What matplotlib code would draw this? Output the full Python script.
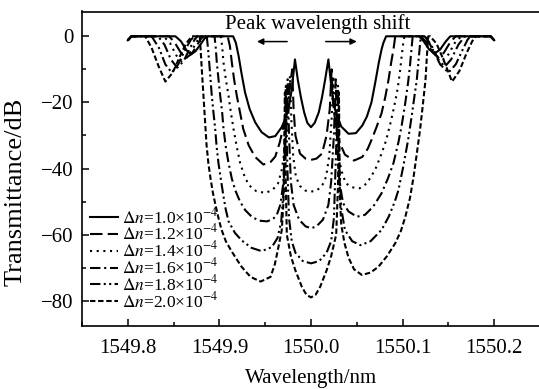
import numpy as np
import matplotlib
matplotlib.use('Agg')
import matplotlib.pyplot as plt
from matplotlib.ticker import MultipleLocator, FormatStrFormatter

plt.rcParams['font.family'] = ['Liberation Serif', 'DejaVu Serif']
plt.rcParams['mathtext.fontset'] = 'stix'

# centre wavelength (nm); curve points are (offset from centre in nm, transmittance in dB)
center = 1550.0

n10 = [(-0.200, -1.2), (-0.196, 0), (-0.148, 0), (-0.142, -1.5), (-0.136, -4.2), (-0.131, -5.5),
       (-0.126, -4.5), (-0.120, -2.2), (-0.116, -0.6), (-0.113, 0), (-0.085, 0), (-0.082, -2),
       (-0.079, -6), (-0.076, -11), (-0.072, -17), (-0.067, -22), (-0.061, -26), (-0.054, -29),
       (-0.046, -30.6), (-0.039, -30.2), (-0.032, -27.5), (-0.0275, -24.5), (-0.0245, -22),
       (-0.021, -16), (-0.0175, -7), (-0.0145, -13), (-0.011, -18.5), (-0.0075, -23),
       (-0.004, -26.2), (0, -27.5), (0.004, -26.2), (0.0085, -23), (0.012, -18.5), (0.0155, -13),
       (0.019, -7), (0.0225, -16), (0.026, -22), (0.033, -27.3), (0.041, -29.5), (0.049, -29.3),
       (0.056, -27), (0.061, -24.3), (0.066, -20), (0.070, -14.2), (0.074, -8), (0.077, -4),
       (0.079, -2), (0.082, 0), (0.118, 0), (0.123, -1.5), (0.129, -4), (0.135, -5.2),
       (0.141, -4), (0.147, -1.6), (0.152, 0), (0.196, 0), (0.200, -1.2)]

n12 = [(-0.200, -1.2), (-0.196, 0), (-0.155, 0), (-0.149, -1.8), (-0.142, -5), (-0.136, -6.5),
       (-0.130, -5.2), (-0.124, -2.5), (-0.120, -0.7), (-0.117, 0), (-0.091, 0), (-0.0885, -3),
       (-0.0864, -8), (-0.084, -13), (-0.081, -18), (-0.0775, -23), (-0.074, -28), (-0.068, -33),
       (-0.061, -36.5), (-0.052, -38.8), (-0.044, -38), (-0.039, -36.4), (-0.034, -32),
       (-0.029, -26), (-0.025, -19), (-0.0205, -10), (-0.019, -22), (-0.017, -30),
       (-0.012, -35.5), (-0.006, -37), (0, -37.4), (0.006, -37), (0.012, -35.5), (0.017, -30),
       (0.0205, -22), (0.0225, -10), (0.024, -20), (0.027, -27), (0.031, -32), (0.037, -35.8),
       (0.047, -37.6), (0.056, -36.5), (0.062, -34), (0.066, -31.4), (0.0715, -27.5),
       (0.077, -23.3), (0.081, -18.5), (0.0846, -13.2), (0.0875, -8), (0.090, -4), (0.092, 0),
       (0.120, 0), (0.126, -1.8), (0.133, -5), (0.139, -6.3), (0.145, -5), (0.152, -1.8),
       (0.158, 0), (0.196, 0), (0.200, -1.2)]

n14 = [(-0.200, -1.2), (-0.196, 0), (-0.161, 0), (-0.154, -2), (-0.147, -5.8), (-0.141, -7.5),
       (-0.134, -6), (-0.127, -2.8), (-0.123, -0.8), (-0.120, 0), (-0.0985, 0), (-0.097, -3),
       (-0.0955, -8), (-0.093, -13), (-0.090, -18), (-0.0875, -23), (-0.0846, -28),
       (-0.081, -33.5), (-0.0773, -38.4), (-0.073, -42), (-0.068, -45), (-0.060, -46.8),
       (-0.050, -47.4), (-0.042, -46.5), (-0.036, -44.5), (-0.032, -40.5), (-0.0285, -34),
       (-0.0255, -25), (-0.023, -12), (-0.0215, -25), (-0.0195, -36), (-0.0165, -42.5),
       (-0.012, -45.3), (-0.006, -46.7), (0, -47), (0.006, -46.7), (0.012, -45.3),
       (0.0165, -42.5), (0.020, -36), (0.0225, -25), (0.0245, -12), (0.026, -25), (0.029, -34),
       (0.033, -40.5), (0.038, -44.5), (0.045, -45.7), (0.053, -46), (0.061, -44.5),
       (0.070, -40.4), (0.077, -35.5), (0.082, -31.5), (0.087, -26), (0.091, -21),
       (0.0945, -16), (0.097, -11), (0.099, -6), (0.1005, -2.5), (0.102, 0), (0.122, 0),
       (0.129, -2), (0.136, -5.8), (0.143, -7.3), (0.150, -5.5), (0.157, -2), (0.164, 0),
       (0.196, 0), (0.200, -1.2)]

n16 = [(-0.200, -1.2), (-0.196, 0), (-0.167, 0), (-0.160, -2.5), (-0.153, -7), (-0.146, -9.5),
       (-0.139, -7.5), (-0.132, -3.5), (-0.127, -1), (-0.124, 0), (-0.1053, 0), (-0.104, -3.5),
       (-0.1028, -8), (-0.101, -13), (-0.0991, -18), (-0.097, -23), (-0.0955, -28),
       (-0.093, -33.5), (-0.090, -38.4), (-0.0865, -43), (-0.0828, -46.5), (-0.0775, -50),
       (-0.0718, -52.6), (-0.064, -54.8), (-0.0555, -55.8), (-0.048, -56), (-0.0415, -55.3),
       (-0.0373, -54), (-0.0335, -51), (-0.0305, -45), (-0.028, -33), (-0.0255, -13),
       (-0.024, -30), (-0.022, -44), (-0.019, -51), (-0.013, -55.5), (-0.006, -57.5),
       (0, -58.1), (0.006, -57.5), (0.013, -55.5), (0.019, -51), (0.022, -44), (0.025, -30),
       (0.027, -13), (0.0285, -32), (0.031, -44), (0.035, -50.5), (0.041, -53), (0.050, -54.6),
       (0.059, -54), (0.068, -51.5), (0.077, -47.5), (0.084, -43), (0.090, -38.4),
       (0.0955, -32), (0.099, -27), (0.103, -20), (0.106, -14), (0.108, -9), (0.1095, -4.5),
       (0.111, 0), (0.124, 0), (0.131, -2.5), (0.139, -7), (0.146, -9.2), (0.153, -7),
       (0.161, -2.5), (0.168, 0), (0.196, 0), (0.200, -1.2)]

n18 = [(-0.200, -1.2), (-0.196, 0), (-0.174, 0), (-0.166, -3.5), (-0.159, -8.5), (-0.152, -11),
       (-0.145, -8.5), (-0.137, -3.8), (-0.131, -1), (-0.127, 0), (-0.1138, 0), (-0.1125, -3.5),
       (-0.1111, -8), (-0.1097, -13), (-0.1083, -18), (-0.1065, -23), (-0.1046, -28),
       (-0.103, -33.5), (-0.101, -38.4), (-0.098, -44), (-0.0955, -48.5), (-0.093, -52.5),
       (-0.090, -56), (-0.083, -59.5), (-0.0755, -61.8), (-0.065, -64), (-0.054, -65),
       (-0.0428, -63.8), (-0.0365, -61), (-0.0325, -56), (-0.0295, -45), (-0.0275, -15),
       (-0.026, -38), (-0.024, -55), (-0.021, -62), (-0.017, -65.5), (-0.009, -68),
       (0, -68.7), (0.009, -68), (0.017, -65.5), (0.022, -62), (0.025, -55), (0.027, -38),
       (0.0295, -15), (0.031, -40), (0.033, -52), (0.037, -58.6), (0.045, -62), (0.054, -63.2),
       (0.065, -62), (0.077, -58.6), (0.085, -54.5), (0.0915, -50), (0.0955, -46.5),
       (0.101, -39), (0.106, -31.4), (0.110, -24), (0.113, -18), (0.1155, -13.2),
       (0.1175, -7), (0.119, -2.5), (0.120, 0), (0.125, 0), (0.132, -3.5), (0.141, -8.5),
       (0.150, -11), (0.158, -8.5), (0.166, -3.8), (0.171, -1), (0.174, 0), (0.196, 0),
       (0.200, -1.2)]

n20 = [(-0.200, -1.2), (-0.196, 0), (-0.181, 0), (-0.174, -3.5), (-0.1665, -9), (-0.159, -13.7),
       (-0.151, -11), (-0.143, -6), (-0.1365, -2.2), (-0.130, 0), (-0.1215, 0), (-0.1205, -4),
       (-0.119, -11), (-0.1174, -18), (-0.1157, -25.5), (-0.114, -33), (-0.112, -38.5),
       (-0.1097, -43), (-0.107, -47.5), (-0.1043, -51), (-0.101, -55), (-0.0977, -58.5),
       (-0.093, -62), (-0.0868, -65), (-0.0759, -69.7), (-0.066, -72.8), (-0.055, -74.2),
       (-0.0442, -72.8), (-0.0395, -69), (-0.0355, -63.7), (-0.0319, -58.6), (-0.030, -50),
       (-0.0285, -17), (-0.0275, -45), (-0.0264, -60), (-0.022, -66.5), (-0.0172, -70.7),
       (-0.010, -75.8), (-0.005, -78.2), (0, -79), (0.005, -78.2), (0.010, -75.8),
       (0.0172, -70.7), (0.022, -66.5), (0.0275, -60), (0.0295, -45), (0.0305, -17),
       (0.0315, -48), (0.033, -57), (0.0365, -62.5), (0.041, -67), (0.047, -70.5),
       (0.0555, -72.2), (0.065, -71.5), (0.0737, -69.7), (0.083, -66.5), (0.092, -62.6),
       (0.098, -59), (0.103, -54.6), (0.108, -49), (0.112, -42.5), (0.1155, -35.5),
       (0.119, -28.4), (0.122, -21), (0.125, -13.2), (0.1265, -6), (0.128, 0), (0.130, 0),
       (0.137, -2.2), (0.1445, -7), (0.154, -13.7), (0.162, -10.5), (0.170, -5), (0.176, -1.5),
       (0.180, 0), (0.196, 0), (0.200, -1.2)]

curves = [n10, n12, n14, n16, n18, n20]
labels = [r'$\Delta n$=1.0×10$^{-4}$', r'$\Delta n$=1.2×10$^{-4}$', r'$\Delta n$=1.4×10$^{-4}$',
          r'$\Delta n$=1.6×10$^{-4}$', r'$\Delta n$=1.8×10$^{-4}$', r'$\Delta n$=2.0×10$^{-4}$']
styles = ['-', (0, (6, 2.5)), (0, (1, 2.2)), (0, (5, 1.8, 1, 1.8)),
          (0, (5, 1.6, 1, 1.6, 1, 1.6)), (0, (2.6, 1.3))]

fig = plt.figure(figsize=(5.39, 3.89), dpi=100)
ax = fig.add_axes([82 / 539, 1 - 325.5 / 389, 458 / 539, 314 / 389])

for pts, lab, ls in zip(curves, labels, styles):
    pts = np.array(pts)
    ax.plot(center + pts[:, 0], pts[:, 1], color='black', lw=1.5, linestyle=ls, label=lab)

ax.set_xlim(1549.75, 1550.25)
ax.set_ylim(-87.5, 7.5)
ax.xaxis.set_major_locator(MultipleLocator(0.1))
ax.xaxis.set_minor_locator(MultipleLocator(0.05))
ax.xaxis.set_major_formatter(FormatStrFormatter('%.1f'))
ax.yaxis.set_major_locator(MultipleLocator(20))
ax.yaxis.set_minor_locator(MultipleLocator(10))
ax.tick_params(which='both', direction='in', top=False, right=False, width=1.1, labelsize=15)
ax.tick_params(which='major', length=5)
ax.tick_params(which='minor', length=3)
ax.tick_params(axis='x', pad=10)
ax.tick_params(axis='y', pad=6)
for s in ax.spines.values():
    s.set_linewidth(1.2)
ax.spines['right'].set_visible(False)

ax.set_xlabel('Wavelength/nm', fontsize=15, labelpad=8)
ax.set_ylabel('Transmittance/dB', fontsize=19)
ax.yaxis.set_label_coords(-0.122, 0.424)

ax.text(1550.007, 3.7, 'Peak wavelength shift', fontsize=15, ha='center', va='center')
ax.annotate('', xy=(1549.938, -1.6), xytext=(1549.977, -1.6),
            arrowprops=dict(arrowstyle='-|>', color='black', lw=1.1, mutation_scale=9))
ax.annotate('', xy=(1550.053, -1.6), xytext=(1550.013, -1.6),
            arrowprops=dict(arrowstyle='-|>', color='black', lw=1.1, mutation_scale=9))

ax.legend(loc='upper left', bbox_to_anchor=(90 / 539, 1 - 207 / 389),
          bbox_transform=fig.transFigure, frameon=False, fontsize=12.5,
          handlelength=1.6, handletextpad=0.25, labelspacing=-0.18,
          borderpad=0, borderaxespad=0)

fig.savefig('out.png', dpi=100)
